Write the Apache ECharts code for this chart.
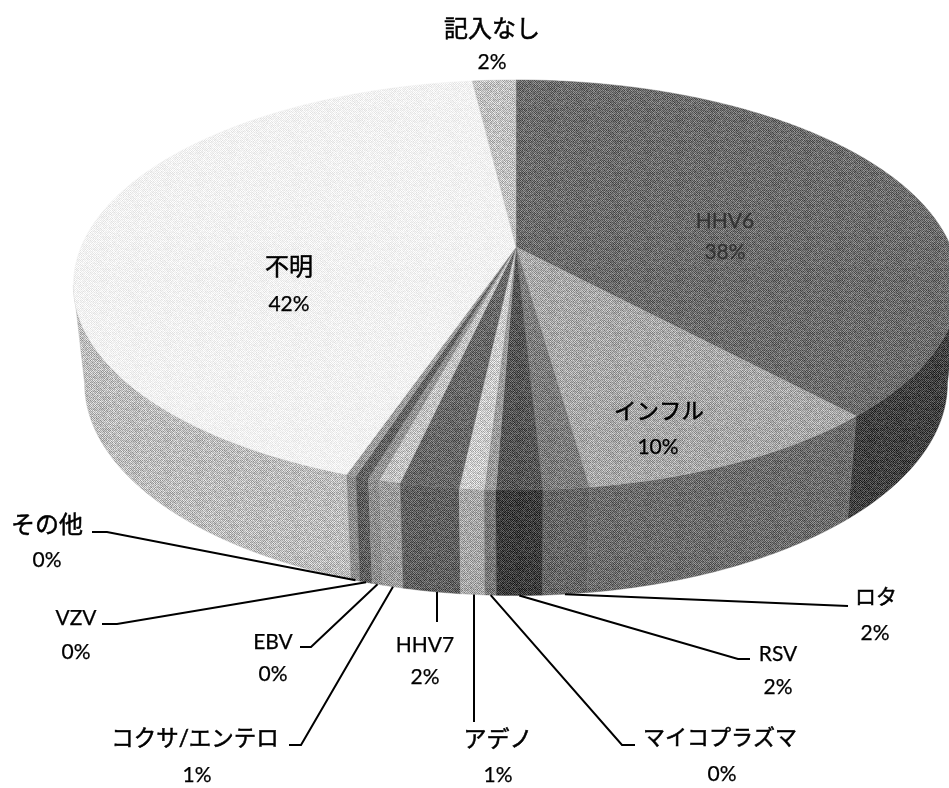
<!DOCTYPE html>
<html><head><meta charset="utf-8">
<style>html,body{margin:0;padding:0;background:#fff}#c{width:949px;height:788px}</style>
<script src="https://cdn.jsdelivr.net/npm/echarts@6/dist/echarts.min.js"></script>
</head><body><div id="c"></div>
<script>
// Data (clockwise from 12 o'clock)
const categories = ['HHV6','インフル','ロタ','RSV','マイコプラズマ','アデノ','HHV7','コクサ/エンテロ','EBV','VZV','その他','不明','記入なし'];
const shares = [38.2,9.6,1.4,1.4,0.35,0.75,1.8,0.65,0.35,0.4,0.3,42.9,1.9];
const percentLabels = ['38%','10%','2%','2%','0%','1%','2%','1%','0%','0%','0%','42%','2%'];

// Grey levels of the top faces and side walls
const faceGreys = [108,168,124,86,154,202,104,194,146,99,156,241,192];
const wallGreys = [65,108,102,60,120,166,96,156,140,94,140,188,140];

// Label layout: [name x, name y, percent x, percent y, text colour, name font size]
const labelLayout = [
  [725,221,725,252,'#333',21],[659,412,658,447,'#000',22.5],[876,597,875,633,'#000',21],[778,654,778,687,'#000',21],
  [720,738,722,774,'#000',22],[498,740,498,775,'#000',23],[425,645,425,677,'#000',21],[195,739,197,775,'#000',22.5],
  [273,642,273,674,'#000',21],[76,618,76,652,'#000',21],[47,525,47,560,'#000',24],[289,267,289,304,'#000',24],[492,29,492,62,'#000',24]
];
// Leader lines: label-side points; the lower-rim point comes from the slice's mid-angle
const leaderEnds = {2:[[848,606]],3:[[750,659],[738,659]],4:[[635,745],[622,745]],
  7:[[289,745],[301,745]],8:[[300,647],[311,647]],9:[[102,624],[117,624]],10:[[92,532],[107,532]]};
// Leaders that drop straight down from the rim: x and label-side y
const verticalLeaders = {5:[474,722],6:[437,622]};

// Perspective view of the disc
const view = {cx:516, pers:0.185, top:{cy:247,k:435,m:198}, bottom:{cy:344,k:424,m:205}};
function project(theta, rim){
  const u=Math.sin(theta), v=-Math.cos(theta), d=1-view.pers*v;
  return [view.cx+rim.k*u/d, rim.cy+rim.m*v/d];
}
// y of the lower rim at a given x, front side
function rimYAt(x){
  let a0=Math.PI/1.2,a1=Math.PI*1.2;
  for(let i=0;i<40;i++){const m=(a0+a1)/2; if(project(m,view.bottom)[0]>x) a0=m; else a1=m;}
  return project((a0+a1)/2,view.bottom)[1];
}
const total = shares.reduce((a,b)=>a+b,0);
const starts=[]; { let s=0; shares.forEach(v=>{starts.push(s); s+=v;}); }
const ang = p => p/total*Math.PI*2;
const WALL_MIN = Math.acos(-view.pers), WALL_MAX = Math.PI*2-WALL_MIN;
function arc(a0,a1,rim){ const n=Math.max(2,Math.ceil((a1-a0)/0.01)), r=[];
  for(let i=0;i<=n;i++) r.push(project(a0+(a1-a0)*i/n,rim)); return r; }

// Halftone grain of the scanned original: a fixed checker-and-grain tile around a grey level
const TILE=32;
function grain(x,y){ const s=Math.sin(x*12.9898+y*78.233)*43758.5453; return s-Math.floor(s); }
const patternCache={};
function halftone(g){
  if(patternCache[g]) return patternCache[g];
  const c=document.createElement('canvas'); c.width=c.height=TILE;
  const ctx=c.getContext('2d'), img=ctx.createImageData(TILE,TILE);
  const amp=Math.min(50,(255-g)*1.0+4,g*0.8);
  for(let y=0;y<TILE;y++) for(let x=0;x<TILE;x++){
    const n=0.55*((x+y)%2?1:-1)+0.9*(grain(x,y)-0.5);
    const val=Math.max(0,Math.min(255,Math.round(g+amp*n)));
    const k=(y*TILE+x)*4; img.data[k]=img.data[k+1]=img.data[k+2]=val; img.data[k+3]=255;
  }
  ctx.putImageData(img,0,0);
  return patternCache[g]={image:c,repeat:'repeat'};
}
const grey=g=>'rgb('+g+','+g+','+g+')';

const font = '"Lato","Noto Sans CJK JP",sans-serif';
const chart = echarts.init(document.getElementById('c'),null,{renderer:'canvas'});
const rows = shares.map((v,i)=>[v,i]);
const wallOrder = rows.map(r=>r[1]).sort((a,b)=>{
  const mid=i=>Math.abs(ang(starts[i]+shares[i]/2)-Math.PI); return mid(b)-mid(a);});
chart.setOption({
  animation:false,
  series:[
   {type:'custom',coordinateSystem:'none',silent:true,z:1,data:wallOrder.map(i=>rows[i]),
    renderItem(p,api){ const i=api.value(1), a0=Math.max(ang(starts[i]),WALL_MIN), a1=Math.min(ang(starts[i]+shares[i]),WALL_MAX);
      if(a1<=a0) return {type:'group',children:[]};
      const pts=arc(a0,a1,view.top).concat(arc(a0,a1,view.bottom).reverse());
      return {type:'polygon',shape:{points:pts},style:{fill:halftone(wallGreys[i]),stroke:grey(wallGreys[i]),lineWidth:0.4}};
    }},
   {type:'custom',coordinateSystem:'none',silent:true,z:2,data:rows,
    renderItem(p,api){ const i=api.value(1), a0=ang(starts[i]), a1=ang(starts[i]+api.value(0));
      const pts=[[view.cx,view.top.cy]].concat(arc(a0,a1,view.top));
      return {type:'polygon',shape:{points:pts},style:{fill:halftone(faceGreys[i]),stroke:grey(faceGreys[i]),lineWidth:0.4}};
    }},
   {type:'custom',coordinateSystem:'none',silent:true,z:3,data:rows,
    renderItem(p,api){ const i=api.value(1), L=labelLayout[i], kids=[];
      let line=null;
      if(leaderEnds[i]) line=leaderEnds[i].concat([project(ang(starts[i]+shares[i]/2),view.bottom)]);
      if(verticalLeaders[i]) { const [x,y]=verticalLeaders[i]; line=[[x,y],[x,rimYAt(x)]]; }
      if(line) kids.push({type:'polyline',shape:{points:line},style:{fill:null,stroke:'#000',lineWidth:2}});
      const cjk=/[^\x00-\x7f]/.test(categories[i]);
      kids.push({type:'text',style:{x:L[0],y:L[1],text:categories[i],fill:L[4],stroke:L[4],lineWidth:cjk?0.5:0.25,font:L[5]+'px '+font,align:'center',verticalAlign:'middle'}});
      kids.push({type:'text',style:{x:L[2],y:L[3],text:percentLabels[i],fill:L[4],stroke:L[4],lineWidth:0.25,font:'21px '+font,align:'center',verticalAlign:'middle'}});
      return {type:'group',children:kids};
    }}
  ]
});
</script></body></html>
